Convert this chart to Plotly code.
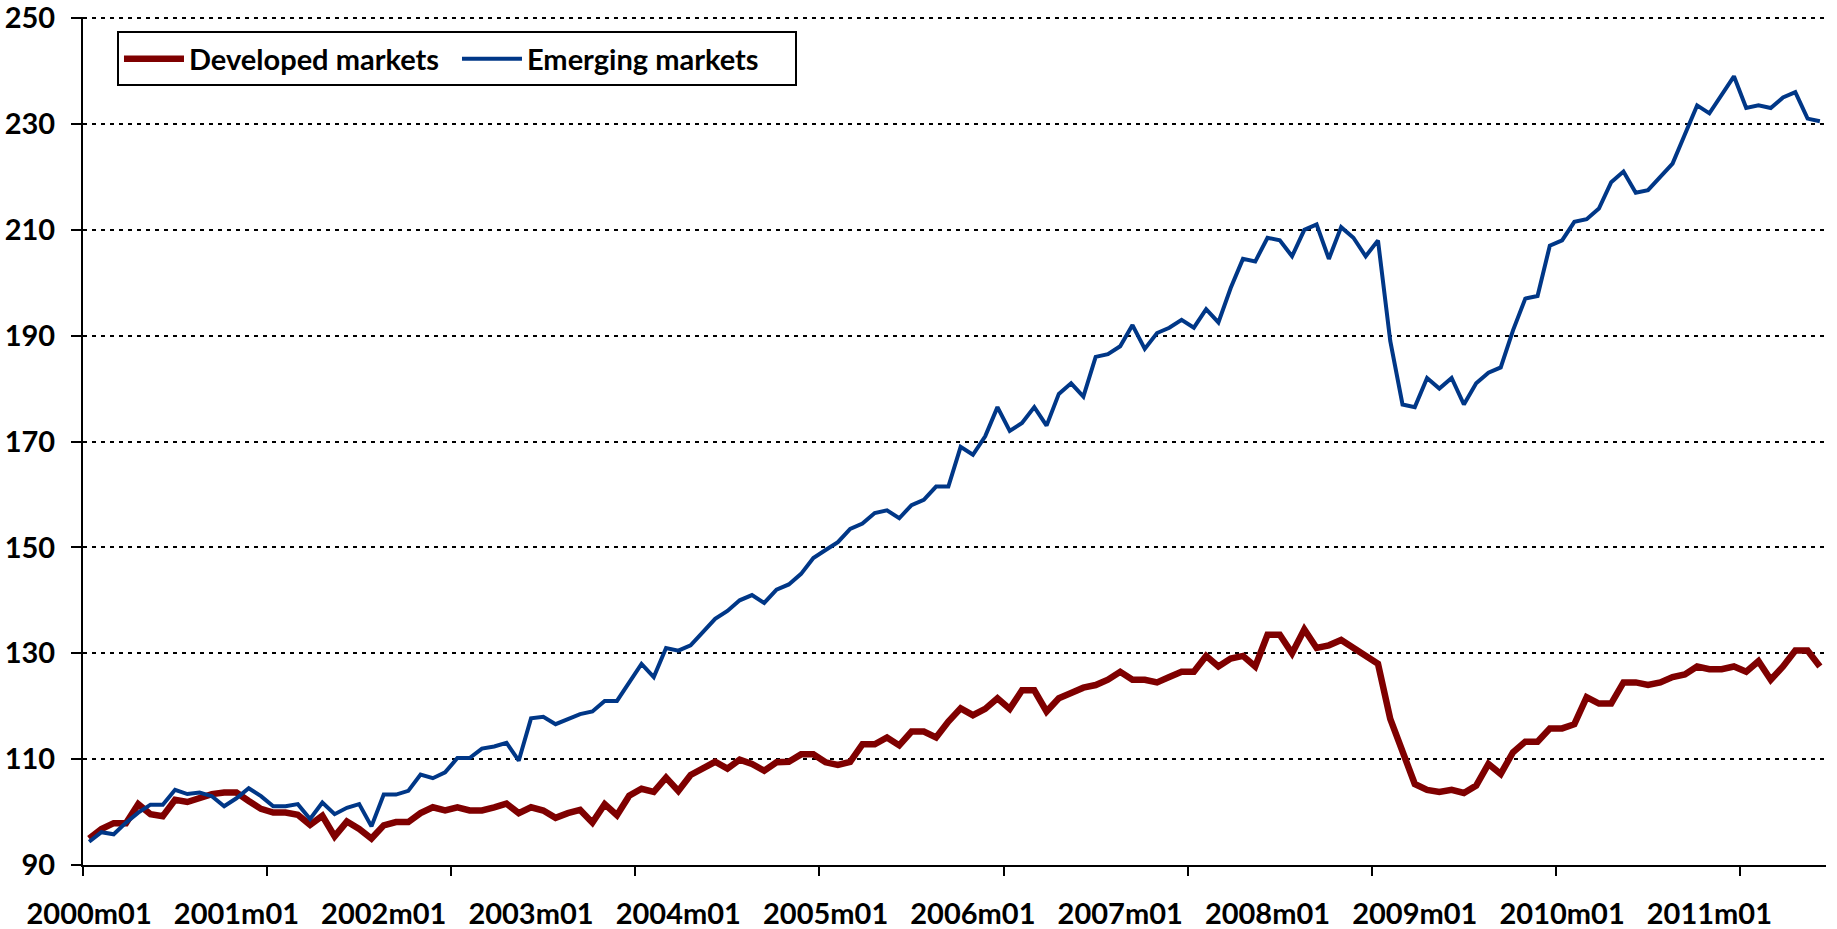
import plotly.graph_objects as go

# monthly categories 2000m01 .. 2011m10
years = list(range(2000, 2012))
months = [f"{y}m{m:02d}" for y in years for m in range(1, 13)][:142]

developed = [
    95.0, 96.8, 97.9, 97.9, 101.5, 99.6, 99.2, 102.3, 101.9, 102.8, 103.4, 103.7,
    103.7, 102.1, 100.6, 99.9, 99.9, 99.5, 97.6, 99.3, 95.4, 98.2, 96.8, 95.0,
    97.5, 98.1, 98.1, 99.8, 100.9, 100.3, 100.9, 100.3, 100.3, 100.9, 101.6, 99.8,
    100.9, 100.3, 98.9, 99.8, 100.4, 98.0, 101.5, 99.4, 103.1, 104.4, 103.8, 106.5,
    104.0, 107.0, 108.1, 109.5, 108.2, 109.9, 109.1, 107.8, 109.4, 109.5, 110.9, 110.9,
    109.4, 108.9, 109.5, 112.8, 112.8, 114.1, 112.6, 115.2, 115.2, 114.1, 117.1, 119.6,
    118.3, 119.5, 121.5, 119.5, 123.0, 123.0, 119.0, 121.5, 122.5, 123.5, 124.0, 125.0,
    126.5, 125.0, 125.0, 124.5, 125.5, 126.5, 126.5, 129.5, 127.5, 129.0, 129.5, 127.5,
    133.5, 133.5, 130.0, 134.5, 131.0, 131.5, 132.5, 131.0, 129.5, 128.0, 117.6, 111.5,
    105.3, 104.2, 103.8, 104.2, 103.6, 105.0, 109.1, 107.2, 111.3, 113.3, 113.3, 115.8,
    115.8, 116.6, 121.7, 120.5, 120.5, 124.5, 124.5, 124.0, 124.5, 125.5, 126.0, 127.5,
    127.0, 127.0, 127.5, 126.5, 128.5, 125.0, 127.5, 130.5, 130.5, 127.5,
]

emerging = [
    94.4, 96.2, 95.8, 98.0, 99.9, 101.4, 101.4, 104.2, 103.4, 103.7, 103.0, 101.1,
    102.6, 104.5, 103.0, 101.1, 101.1, 101.5, 98.7, 101.8, 99.6, 100.8, 101.5, 97.3,
    103.3, 103.3, 104.0, 107.1, 106.4, 107.5, 110.2, 110.2, 112.0, 112.4, 113.1, 109.7,
    117.7, 118.0, 116.6, 117.5, 118.5, 119.0, 121.0, 121.0, 124.5, 128.0, 125.5, 131.0,
    130.5, 131.5, 134.0, 136.5, 138.0, 140.0, 141.0, 139.5, 142.0, 143.0, 145.0, 148.0,
    149.5, 151.0, 153.5, 154.5, 156.5, 157.0, 155.5, 158.0, 159.0, 161.5, 161.5, 169.0,
    167.5, 171.0, 176.5, 172.0, 173.5, 176.5, 173.0, 179.0, 181.0, 178.5, 186.0, 186.5,
    188.0, 192.0, 187.5, 190.5, 191.5, 193.0, 191.5, 195.0, 192.5, 199.0, 204.5, 204.0,
    208.5, 208.0, 205.0, 210.0, 211.0, 204.5, 210.5, 208.5, 205.0, 208.0, 189.0, 177.0,
    176.5, 182.0, 180.0, 182.0, 177.0, 181.0, 183.0, 184.0, 191.0, 197.0, 197.5, 207.0,
    208.0, 211.5, 212.0, 214.0, 219.0, 221.0, 217.0, 217.5, 220.0, 222.5, 228.0, 233.5,
    232.0, 235.5, 239.0, 233.0, 233.5, 233.0, 235.0, 236.0, 231.0, 230.5,
]

label_months = [f"{y}m01" for y in years]
y_ticks = [90, 110, 130, 150, 170, 190, 210, 230, 250]

idx = list(range(len(months)))
font = dict(family="Lato, 'Open Sans', sans-serif", size=29, color="black", weight=700)

fig = go.Figure()
fig.add_trace(go.Scatter(
    x=idx, y=developed, customdata=months, name="Developed markets", mode="lines",
    line=dict(color="#7F0000", width=6.5),
    hovertemplate="%{customdata}: %{y}<extra></extra>",
))
fig.add_trace(go.Scatter(
    x=idx, y=emerging, customdata=months, name="Emerging markets", mode="lines",
    line=dict(color="#003787", width=4),
    hovertemplate="%{customdata}: %{y}<extra></extra>",
))

fig.update_layout(
    width=1837,
    height=929,
    margin=dict(l=83, r=11, t=17, b=64),
    paper_bgcolor="white",
    plot_bgcolor="white",
    font=font,
    showlegend=True,
    legend=dict(
        orientation="h",
        x=0.0195,
        y=0.983,
        xanchor="left",
        yanchor="top",
        bgcolor="white",
        bordercolor="black",
        borderwidth=2,
        font=font,
        itemwidth=60,
        entrywidth=263,
        entrywidthmode="pixels",
    ),
    xaxis=dict(
        range=[-0.5, len(months) - 0.5],
        tickmode="array",
        tickvals=[months.index(m) for m in label_months],
        ticktext=label_months,
        ticks="",
        ticklabelstandoff=22,
        automargin=False,
        showgrid=False,
        zeroline=False,
        showline=True,
        linecolor="black",
        linewidth=2,
        minor=dict(
            tickmode="linear",
            tick0=-0.5,
            dtick=15,
            ticks="outside",
            ticklen=9,
            tickwidth=2,
            tickcolor="black",
            showgrid=False,
        ),
    ),
    yaxis=dict(
        range=[90, 250.2],
        tickmode="array",
        tickvals=y_ticks,
        ticks="outside",
        ticklen=10,
        tickwidth=2,
        tickcolor="black",
        ticklabelstandoff=10,
        ticklabeloverflow="allow",
        automargin=False,
        showline=True,
        linecolor="black",
        linewidth=2,
        zeroline=False,
        showgrid=True,
        gridcolor="black",
        gridwidth=2,
        griddash="4px,5px",
    ),
)

# the page body has a default 8px margin; drop it so the figure fills the window
fig.write_html(
    "out.html",
    config={"displayModeBar": False},
    post_script="document.body.style.margin = '0';",
)
